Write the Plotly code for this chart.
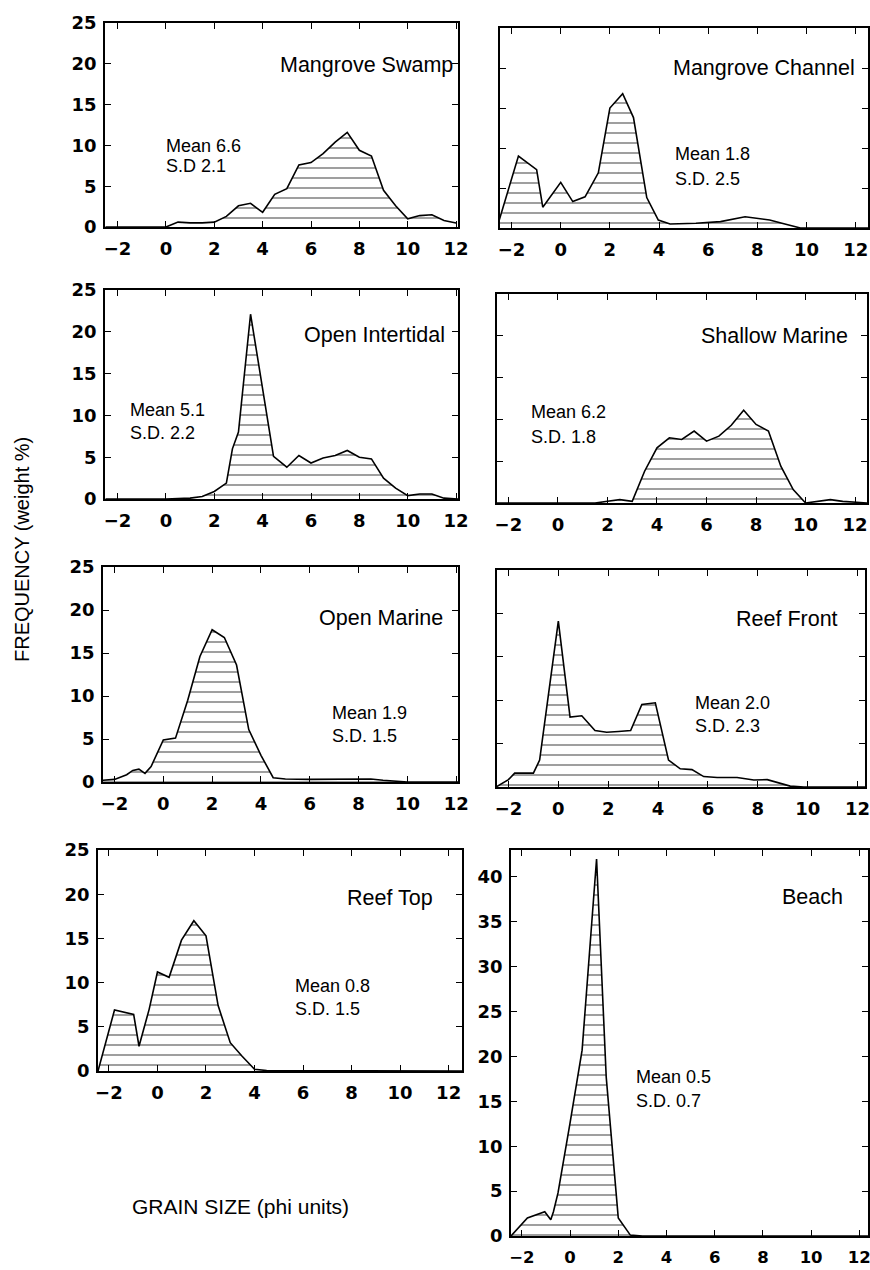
import plotly.graph_objects as go

W, H = 870, 1270

# ---------------- data (grain size in phi, frequency in weight %) ----------------
swamp_x = [-2.5, 0.0, 0.5, 1.0, 1.5, 2.0, 2.5, 3.0, 3.5, 4.0, 4.5, 5.0, 5.5, 6.0, 6.5,
           7.0, 7.5, 8.0, 8.5, 9.0, 9.5, 10.0, 10.5, 11.0, 11.5, 12.0]
swamp_y = [0, 0, 0.6, 0.5, 0.5, 0.6, 1.3, 2.6, 2.9, 1.8, 4.0, 4.7, 7.6, 7.9, 9.0,
           10.4, 11.6, 9.4, 8.7, 4.5, 2.6, 1.0, 1.4, 1.5, 0.8, 0.5]

channel_x = [-2.5, -1.72, -0.98, -0.73, 0.0, 0.49, 0.99, 1.53, 2.0, 2.52, 2.96, 3.5,
             3.97, 4.45, 5.5, 6.5, 7.5, 8.5, 9.0, 9.75, 12.5]
channel_y = [1.0, 9.0, 7.3, 2.6, 5.7, 3.3, 3.9, 6.9, 15.0, 16.8, 13.8, 3.8,
             1.0, 0.5, 0.6, 0.8, 1.4, 1.0, 0.6, 0.0, 0.0]

intertidal_x = [-2.5, 0.0, 1.0, 1.5, 2.0, 2.5, 2.75, 3.0, 3.5, 4.45, 5.0, 5.5, 6.0, 6.5,
                7.0, 7.5, 8.0, 8.5, 9.0, 9.5, 10.0, 10.5, 11.0, 11.5, 12.1]
intertidal_y = [0, 0, 0.1, 0.3, 0.9, 1.9, 6.0, 8.0, 22.1, 5.1, 3.8, 5.2, 4.3, 4.9,
                5.2, 5.8, 5.0, 4.8, 2.5, 1.3, 0.4, 0.6, 0.6, 0.1, 0]

shallow_x = [-2.5, 1.5, 2.0, 2.5, 3.0, 3.5, 4.0, 4.5, 5.0, 5.5, 6.0, 6.5, 7.0, 7.5,
             8.0, 8.5, 9.0, 9.5, 10.0, 10.5, 11.0, 11.5, 12.0, 12.5]
shallow_y = [0, 0, 0.2, 0.4, 0.2, 3.8, 6.6, 7.8, 7.6, 8.6, 7.4, 8.0, 9.3, 11.1,
             9.4, 8.6, 4.4, 1.6, 0, 0.2, 0.4, 0.2, 0.1, 0]

openmarine_x = [-2.5, -2.0, -1.5, -1.25, -1.0, -0.75, -0.5, 0.0, 0.5, 1.0, 1.5, 2.0, 2.5,
                3.0, 3.5, 4.0, 4.5, 5.0, 6.0, 7.0, 8.0, 8.5, 9.0, 10.0, 12.1]
openmarine_y = [0.2, 0.3, 0.85, 1.35, 1.5, 1.0, 1.8, 4.9, 5.1, 9.5, 14.6, 17.7, 16.8,
                13.6, 6.1, 3.1, 0.5, 0.35, 0.3, 0.3, 0.35, 0.35, 0.2, 0, 0]

reeffront_x = [-2.5, -2.0, -1.75, -1.0, -0.75, 0.0, 0.47, 0.94, 1.47, 1.94, 2.41, 2.9,
               3.35, 3.89, 4.42, 4.89, 5.36, 5.83, 6.37, 7.17, 7.84, 8.38, 9.3, 9.85, 12.3]
reeffront_y = [0, 0.85, 1.6, 1.6, 3.1, 19.1, 8.05, 8.2, 6.5, 6.3, 6.4, 6.5,
               9.5, 9.7, 3.1, 2.1, 2.0, 1.2, 1.1, 1.1, 0.8, 0.85, 0.1, 0, 0]

reeftop_x = [-2.45, -2.28, -1.77, -0.98, -0.76, -0.34, 0.0, 0.48, 0.99, 1.5, 2.0, 2.5,
             3.0, 3.48, 4.0, 4.5, 10.0, 12.55]
reeftop_y = [0, 1.7, 6.9, 6.4, 2.8, 7.0, 11.2, 10.6, 14.8, 17.0, 15.3, 7.4,
             3.2, 1.7, 0.2, 0.05, 0, 0]

beach_x = [-2.45, -1.77, -1.05, -0.8, -0.69, -0.5, 0.0, 0.5, 1.1, 1.5, 2.0, 2.5, 3.0, 12.36]
beach_y = [0, 2.0, 2.7, 1.8, 2.7, 4.8, 12.6, 20.7, 42.0, 17.7, 2.0, 0.1, 0, 0]

names = ["Mangrove Swamp", "Mangrove Channel", "Open Intertidal", "Shallow Marine",
         "Open Marine", "Reef Front", "Reef Top", "Beach"]
means = ["Mean 6.6", "Mean 1.8", "Mean 5.1", "Mean 6.2", "Mean 1.9", "Mean 2.0", "Mean 0.8", "Mean 0.5"]
sds = ["S.D 2.1", "S.D. 2.5", "S.D. 2.2", "S.D. 1.8", "S.D. 1.5", "S.D. 2.3", "S.D. 1.5", "S.D. 0.7"]
xs = [swamp_x, channel_x, intertidal_x, shallow_x, openmarine_x, reeffront_x, reeftop_x, beach_x]
ys = [swamp_y, channel_y, intertidal_y, shallow_y, openmarine_y, reeffront_y, reeftop_y, beach_y]

x_ticks = [-2, 0, 2, 4, 6, 8, 10, 12]
y_ticks_25 = [0, 5, 10, 15, 20, 25]
y_ticks_beach = [0, 5, 10, 15, 20, 25, 30, 35, 40]

# ---------------- layout (pixels) ----------------
# panel boxes: left, top, right, bottom
boxes = [(105, 23, 458, 227), (500, 28, 868, 228),
         (105, 290, 458, 499), (497, 294, 867, 503),
         (103, 567, 458, 782), (497, 570, 865, 787),
         (98, 850, 462, 1071), (511, 850, 868, 1236)]
xranges = [(-2.52, 12.08), (-2.47, 12.5), (-2.52, 12.08), (-2.46, 12.48),
           (-2.47, 12.07), (-2.46, 12.3), (-2.45, 12.55), (-2.45, 12.36)]
yranges = [(0, 25)] * 7 + [(0, 43)]
show_ylab = [True, False, True, False, True, False, True, True]
xtick_size = [18, 18, 18, 18, 18, 18, 18, 16.5]
# title right end (x, y); stats left (x, y_mean, y_sd)
title_pos = [(455, 65), (857, 68), (447, 335), (850, 336), (445, 618), (840, 619), (435, 898), (845, 897)]
stat_pos = [(164, 146, 166), (673, 154, 179), (128, 410, 433), (529, 412, 437),
            (330, 713, 736), (693, 703, 726), (293, 986, 1009), (634, 1077, 1101)]


def px(x):
    return x / W


def py(y):
    return 1 - y / H


fig = go.Figure()
TXT = "Liberation Sans"
TICK = "DejaVu Sans"
annotations = []
for i in range(8):
    k = "" if i == 0 else str(i + 1)
    l, t, r, b = boxes[i]
    fig.add_trace(go.Scatter(
        x=xs[i], y=ys[i], mode="lines", xaxis="x" + k, yaxis="y" + k,
        line=dict(color="black", width=1.6),
        fill="tozeroy", fillcolor="white",
        fillpattern=dict(shape="-", size=10, solidity=0.15, fgcolor="black", bgcolor="white"),
        showlegend=False, hoverinfo="skip"))
    axis_common = dict(showline=True, linecolor="black", linewidth=1.6, mirror="ticks",
                       ticks="inside", ticklen=6, tickwidth=1.3, tickcolor="black",
                       showgrid=False, zeroline=False, automargin=False,
                       ticklabeloverflow="allow")
    fig.layout["xaxis" + k] = dict(
        domain=[px(l), px(r)], anchor="y" + k, range=list(xranges[i]),
        tickvals=x_ticks, ticktext=[("\u22122" if v < 0 else str(v)) for v in x_ticks],
        tickfont=dict(family=TICK, size=xtick_size[i], color="black", weight="bold"),
        ticklabelstandoff=5, **axis_common)
    yt = y_ticks_beach if i == 7 else y_ticks_25
    fig.layout["yaxis" + k] = dict(
        domain=[py(b), py(t)], anchor="x" + k, range=list(yranges[i]),
        tickvals=yt, showticklabels=show_ylab[i],
        tickfont=dict(family=TICK, size=18, color="black", weight="bold"),
        ticklabelstandoff=3, **axis_common)
    tx, ty = title_pos[i]
    annotations.append(dict(text=names[i], x=px(tx), y=py(ty), xref="paper", yref="paper",
                            xanchor="right", yanchor="middle", showarrow=False,
                            font=dict(family=TXT, size=21.5, color="black")))
    sx, sy1, sy2 = stat_pos[i]
    annotations.append(dict(text=means[i], x=px(sx), y=py(sy1), xref="paper", yref="paper",
                            xanchor="left", yanchor="middle", showarrow=False,
                            font=dict(family=TXT, size=18, color="black")))
    annotations.append(dict(text=sds[i], x=px(sx), y=py(sy2), xref="paper", yref="paper",
                            xanchor="left", yanchor="middle", showarrow=False,
                            font=dict(family=TXT, size=18, color="black")))

annotations.append(dict(text="FREQUENCY (weight %)", x=px(22), y=py(550), xref="paper", yref="paper",
                        xanchor="center", yanchor="middle", textangle=-90, showarrow=False,
                        font=dict(family=TXT, size=20, color="black")))
annotations.append(dict(text="GRAIN SIZE (phi units)", x=px(130), y=py(1206), xref="paper", yref="paper",
                        xanchor="left", yanchor="middle", showarrow=False,
                        font=dict(family=TXT, size=21, color="black")))

fig.update_layout(width=W, height=H, margin=dict(l=0, r=0, t=0, b=0),
                  paper_bgcolor="white", plot_bgcolor="white", annotations=annotations)

# remove the browser's default 8px page margin so the figure sits at the window origin
fig.write_html("out.html", config={"displayModeBar": False},
               post_script="document.body.style.margin='0';")
